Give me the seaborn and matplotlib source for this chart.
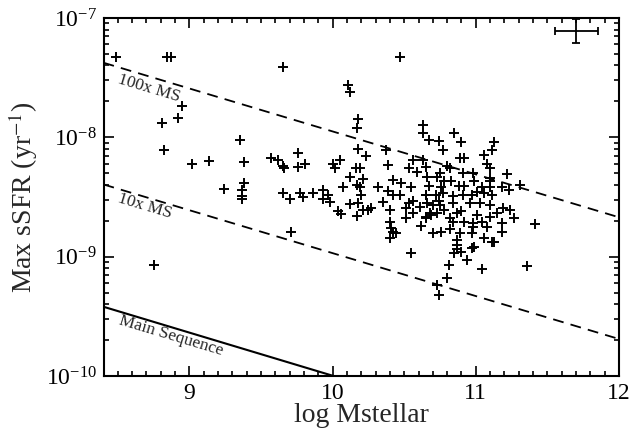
import numpy as np
import pandas as pd
import matplotlib
matplotlib.use("Agg")
import matplotlib.pyplot as plt
import seaborn as sns

# ---- data (log stellar mass, log10 max sSFR) ----
log_mass = [
    8.49, 8.84, 8.87, 9.65, 8.95, 8.92, 8.81, 8.82, 9.35, 9.76, 9.02, 9.14, 9.38, 9.57, 9.62,
    9.65, 9.66, 9.76, 9.38, 9.24, 9.37, 9.37, 9.37, 9.65, 9.70, 9.77, 9.79, 9.71, 8.75,
    10.11, 10.12, 10.18, 10.17, 10.18, 10.23, 10.37, 9.81, 10.00, 10.05, 10.02, 10.16, 10.19,
    10.39, 10.12, 10.21, 10.17, 10.07, 10.19, 9.86, 9.93, 9.97, 10.32, 10.42, 10.48, 10.55,
    10.56, 10.63, 10.53, 10.59, 10.65, 10.66, 10.73, 10.42, 10.47, 10.20,
    9.93, 9.98, 10.12, 10.18, 10.21, 10.25, 10.27, 10.04, 10.06, 10.17, 10.35, 10.39, 10.40,
    10.51, 10.53, 10.56, 10.51, 10.56, 10.61, 10.65, 10.70, 10.69, 10.65, 10.74, 10.62, 10.40,
    10.41, 10.42, 10.44, 10.40, 10.70, 10.55, 10.73, 10.74,
    10.63, 10.63, 10.67, 10.74, 10.85, 10.90, 10.77, 11.13, 11.11, 11.06, 10.89, 10.92, 11.08,
    11.10, 10.80, 10.82, 10.75, 10.91, 10.98, 11.22, 11.10,
    10.67, 10.78, 10.83, 10.88, 10.92, 10.99, 11.04, 11.10, 11.10, 11.18, 11.23, 11.31, 10.65,
    10.72, 10.77, 10.84, 10.91, 10.97, 11.01, 11.06, 11.11, 10.76,
    10.66, 10.75, 10.84, 10.96, 11.03, 11.10, 10.68, 10.73, 10.78, 10.87, 10.90, 11.15, 11.19,
    11.24, 10.65, 10.82, 11.01, 11.10, 11.27, 10.84, 10.92, 10.98, 11.04, 11.18, 11.41, 10.82,
    10.98, 11.08, 10.76, 10.89, 10.97, 11.18, 11.06, 11.11, 11.13, 10.87, 10.99, 10.97, 10.87,
    10.87, 10.85, 10.90, 10.94, 10.81, 11.04, 11.36, 10.80, 10.47,
]
log_ssfr = [
    -7.33, -7.33, -7.33, -7.41, -7.74, -7.84, -7.88, -8.11, -8.02, -8.13, -8.22, -8.20, -8.21, -8.17, -8.19,
    -8.24, -8.26, -8.25, -8.38, -8.43, -8.44, -8.49, -8.52, -8.47, -8.52, -8.47, -8.50, -8.79, -9.07,
    -7.56, -7.62, -7.85, -7.92, -8.10, -8.16, -8.11, -8.22, -8.22, -8.19, -8.26, -8.26, -8.26,
    -8.23, -8.33, -8.35, -8.40, -8.42, -8.42, -8.47, -8.44, -8.48, -8.42, -8.36, -8.38, -8.42,
    -8.19, -8.19, -8.26, -8.29, -8.25, -8.33, -8.33, -8.48, -8.48, -8.48,
    -8.52, -8.54, -8.56, -8.55, -8.61, -8.61, -8.59, -8.62, -8.64, -8.66, -8.54, -8.45, -8.61,
    -8.59, -8.55, -8.63, -8.68, -8.53, -8.58, -8.48, -8.57, -8.65, -8.68, -8.53, -8.74, -8.71,
    -8.76, -8.79, -8.80, -8.84, -8.80, -8.97, -9.24, -9.32,
    -7.90, -7.96, -8.02, -8.03, -7.96, -8.04, -8.11, -8.04, -8.11, -8.15, -8.17, -8.17, -8.22,
    -8.26, -8.24, -8.26, -8.30, -8.30, -8.30, -8.31, -8.34,
    -8.41, -8.37, -8.37, -8.41, -8.41, -8.37, -8.42, -8.37, -8.42, -8.42, -8.44, -8.40, -8.48,
    -8.48, -8.47, -8.49, -8.48, -8.48, -8.46, -8.47, -8.48, -8.42,
    -8.55, -8.57, -8.55, -8.55, -8.55, -8.57, -8.63, -8.63, -8.61, -8.63, -8.62, -8.63, -8.59,
    -8.61, -8.67, -8.68, -8.65, -8.67, -8.68, -8.71, -8.71, -8.72, -8.71, -8.72, -8.73, -8.77,
    -8.75, -8.75, -8.79, -8.80, -8.80, -8.79, -8.84, -8.88, -8.88, -8.86, -8.92, -8.93, -8.90,
    -8.94, -8.97, -8.96, -9.03, -9.07, -9.10, -9.08, -9.18, -7.33,
]

# reference lines (endpoints, log10 sSFR)
line_mass = [8.4, 12.0]
ms100_log = [-7.375, -8.67]
ms10_log = [-8.395, -9.69]
ms_log = [-9.42, -10.72]

# typical uncertainty
err_mass, err_log, err_dmass, err_dlog = 11.70, -7.11, 0.15, 0.10

# ---- style ----
sns.set_theme(style="ticks")
plt.rcParams["font.family"] = ["Liberation Serif", "DejaVu Serif"]
plt.rcParams["mathtext.fontset"] = "stix"
plt.rcParams["axes.linewidth"] = 1.5

fig = plt.figure(figsize=(6.32, 4.38), dpi=100)
ax = fig.add_axes([0.1638, 0.1416, 0.8156, 0.8173])

df = pd.DataFrame({"mass": log_mass, "ssfr": 10.0 ** np.array(log_ssfr)})
sns.scatterplot(data=df, x="mass", y="ssfr", marker="+", color="black",
                s=55, linewidth=1.4, ax=ax, legend=False, zorder=3)

ax.plot(line_mass, 10.0 ** np.array(ms100_log), color="black", lw=1.3, ls=(0, (6, 4)))
ax.plot(line_mass, 10.0 ** np.array(ms10_log), color="black", lw=1.3, ls=(0, (6, 4)))
ax.plot(line_mass, 10.0 ** np.array(ms_log), color="black", lw=1.5)

yc = 10.0 ** err_log
ax.errorbar([err_mass], [yc], xerr=[[err_dmass], [err_dmass]],
            yerr=[[yc - 10.0 ** (err_log - err_dlog)], [10.0 ** (err_log + err_dlog) - yc]],
            fmt="none", ecolor="black", elinewidth=1.3, capsize=3, capthick=1.3)

ax.set_yscale("log")
ax.set_xlim(8.4, 12.0)
ax.set_ylim(1e-10, 1e-7)
ax.set_xticks([9, 10, 11, 12])
ax.set_xticklabels(["9", "10", "11", "12"])
ax.xaxis.set_minor_locator(matplotlib.ticker.MultipleLocator(0.1))
ax.xaxis.set_minor_formatter(matplotlib.ticker.NullFormatter())
ax.yaxis.set_minor_formatter(matplotlib.ticker.NullFormatter())
ax.tick_params(which="both", direction="in", top=True, right=True, colors="black",
               labelsize=17, width=1.2)
ax.tick_params(which="major", length=7)
ax.tick_params(which="minor", length=3.5)
ax.tick_params(axis="x", pad=5)
ax.tick_params(axis="y", pad=5)

ax.set_xlabel("log Mstellar", fontsize=20, labelpad=-1)
ax.set_ylabel("Max sSFR (yr$^{-1}$)", fontsize=20, labelpad=4)

ax.text(8.72, 10 ** -7.59, "100x MS", rotation=-16.7, rotation_mode="anchor",
        ha="center", va="center", fontsize=12.5)
ax.text(8.69, 10 ** -8.58, "10x MS", rotation=-16.7, rotation_mode="anchor",
        ha="center", va="center", fontsize=12.5)
ax.text(8.87, 10 ** -9.66, "Main Sequence", rotation=-16.7, rotation_mode="anchor",
        ha="center", va="center", fontsize=12.5)

for s in ax.spines.values():
    s.set_color("black")

fig.savefig("out.png", dpi=100)
